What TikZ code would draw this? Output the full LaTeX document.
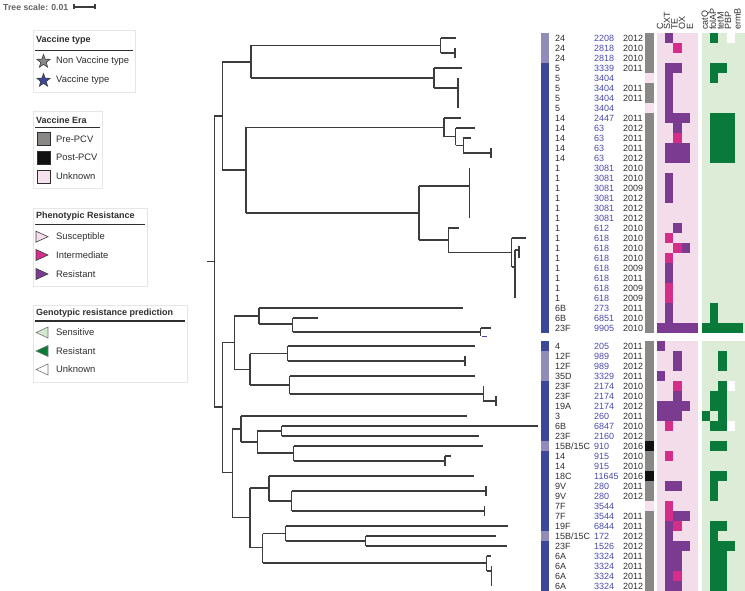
\documentclass[tikz,border=0pt]{standalone}
\usepackage{fontspec}
\setmainfont{Liberation Sans}
\usepackage{tikz}
\usetikzlibrary{shapes.geometric}

\definecolor{vtblue}{HTML}{3B4899}
\definecolor{nvtgrey}{HTML}{908DB8}
\definecolor{erapre}{HTML}{8A8887}
\definecolor{erapost}{HTML}{111111}
\definecolor{eraunk}{HTML}{F7E1EE}
\definecolor{pinkbg}{HTML}{F4DDEB}
\definecolor{greenbg}{HTML}{DDECD6}
\definecolor{phenR}{HTML}{7A3B91}
\definecolor{phenI}{HTML}{D52D8A}
\definecolor{genR}{HTML}{0A7A3A}
\definecolor{genS}{HTML}{D3E7CC}
\definecolor{treegrey}{HTML}{3C3C3C}
\definecolor{stblue}{HTML}{4A4AAA}
\definecolor{labeltext}{HTML}{2E2E2E}
\definecolor{boxgrey}{HTML}{E6E6E6}

\tikzset{
  branch/.style={draw=treegrey, line width=1.1pt},
  sero/.style={anchor=west, inner sep=0pt, font=\fontsize{9}{10}\selectfont, text=labeltext},
  stlab/.style={anchor=west, inner sep=0pt, font=\fontsize{9}{10}\selectfont, text=stblue},
  yrlab/.style={anchor=west, inner sep=0pt, font=\fontsize{9}{10}\selectfont, text=labeltext},
  header/.style={rotate=90, anchor=west, inner sep=0pt, font=\fontsize{9}{10}\selectfont, text=labeltext},
  legtitle/.style={anchor=west, inner sep=0pt, font=\bfseries\fontsize{9}{10}\selectfont, text=labeltext},
  legtext/.style={anchor=west, inner sep=0pt, font=\fontsize{9.4}{11}\selectfont, text=labeltext},
  legbox/.style={draw=boxgrey, line width=0.8pt, fill=white},
  legline/.style={draw=labeltext, line width=1.2pt},
  legstar/.style={star, star points=5, star point ratio=2.4, minimum size=14pt, inner sep=0pt, draw=treegrey, line width=0.6pt},
  legsquare/.style={rectangle, minimum size=13pt, inner sep=0pt, draw=labeltext, line width=0.8pt},
}

\begin{document}
\begin{tikzpicture}[x=1pt,y=-1pt]
\useasboundingbox (0,0) rectangle (745,591);

% tree scale
\node[legtitle, text=treegrey!80, font=\bfseries\fontsize{8.7}{10}\selectfont] (treescale) at (3,7) {Tree scale: 0.01};
\draw[branch] (74,7) -- (95,7) (74,4.5) -- (74,9.5) (95,4.5) -- (95,9.5);

% legend: vaccine type
\draw[legbox] (33,30) rectangle (135,92);
\node[legtitle] (vt-title) at (36,40.5) {Vaccine type};
\draw[legline] (35,50.5) -- (133,50.5);
\node[legstar, fill=erapre] (vt-star1) at (43.5,61.5) {};
\node[legtext] (vt-nvt) at (56,61.5) {Non Vaccine type};
\node[legstar, fill=vtblue] (vt-star2) at (43.5,80.5) {};
\node[legtext] (vt-vt) at (56,80.5) {Vaccine type};

% legend: vaccine era
\draw[legbox] (33,111.5) rectangle (102,188.5);
\node[legtitle] (era-title) at (36,120) {Vaccine Era};
\draw[legline] (35,127.5) -- (100,127.5);
\node[legsquare, fill=erapre] (era-sq1) at (43.5,139) {};
\node[legtext] (era-pre) at (56,139) {Pre-PCV};
\node[legsquare, fill=erapost] (era-sq2) at (43.5,157.5) {};
\node[legtext] (era-post) at (56,157.5) {Post-PCV};
\node[legsquare, fill=eraunk] (era-sq3) at (43.5,176.5) {};
\node[legtext] (era-unk) at (56,176.5) {Unknown};

% legend: phenotypic resistance
\draw[legbox] (33,208) rectangle (147,286);
\node[legtitle] (phen-title) at (36,216) {Phenotypic Resistance};
\draw[legline] (35,224.5) -- (145,224.5);
\foreach \y/\k/\t/\n in {236.7/pinkbg/Susceptible/sus, 255/phenI/Intermediate/int, 274/phenR/Resistant/res} {
  \filldraw[fill=\k, draw=treegrey, line width=0.6pt] (36,\y-5.5) -- (48,\y) -- (36,\y+5.5) -- cycle;
  \node[legtext] (phen-\n) at (56,\y) {\t};
}

% legend: genotypic resistance prediction
\draw[legbox] (33,305) rectangle (187,382);
\node[legtitle] (gen-title) at (36,313.5) {Genotypic resistance prediction};
\draw[legline] (35,321) -- (185,321);
\foreach \y/\k/\t/\n in {332.5/genS/Sensitive/sen, 351/genR/Resistant/res, 369.5/white/Unknown/unk} {
  \filldraw[fill=\k, draw=treegrey!70, line width=0.6pt] (48,\y-5.5) -- (36,\y) -- (48,\y+5.5) -- cycle;
  \node[legtext] (gen-\n) at (56,\y) {\t};
}

% tree, upper clade
\draw[branch] (207,261.5) -- (214.3,261.5) (214.3,116) -- (214.3,407);
\draw[branch] (214.3,116) -- (222.3,116) (222.3,62) -- (222.3,170);
\draw[branch] (222.3,62) -- (251,62) (251,45.5) -- (251,78);
\draw[branch] (251,45.5) -- (440.7,45.5) (440.7,38) -- (440.7,53);
\draw[branch] (440.7,38) -- (456,38);
\draw[branch] (440.7,53) -- (455,53) (455,48) -- (455,58);
\draw[branch] (251,78) -- (434,78) (434,68) -- (434,88);
\draw[branch] (434,68) -- (461.7,68);
\draw[branch] (434,88) -- (458,88) (458,78) -- (458,108);
\draw[branch] (222.3,170) -- (246,170) (246,127.4) -- (246,213);
\draw[branch] (246,127.4) -- (444,127.4) (444,118) -- (444,136.8);
\draw[branch] (444,118) -- (460.7,118);
\draw[branch] (444,136.8) -- (455.7,136.8) (455.7,128) -- (455.7,145.5);
\draw[branch] (455.7,128) -- (475,128);
\draw[branch] (455.7,145.5) -- (463.3,145.5) (463.3,138) -- (463.3,153);
\draw[branch] (463.3,138) -- (471,138);
\draw[branch] (463.3,153) -- (491,153) (491,148) -- (491,158);
\draw[branch] (246,213) -- (419,213) (419,186) -- (419,240);
\draw[branch] (419,186) -- (469.3,186) (469.3,168) -- (469.3,218);
\draw[branch] (419,240) -- (448.3,240) (448.3,228) -- (448.3,252.5);
\draw[branch] (448.3,228) -- (459.3,228);
\draw[branch] (448.3,252.5) -- (511.7,252.5) (511.7,238) -- (511.7,267);
\draw[branch] (511.7,238) -- (526,238);
\draw[branch] (511.7,267) -- (515,267) (515,250) -- (515,298);
\draw[branch] (515,250) -- (519,250) (519,246) -- (519,258);

% tree, lower clade
\draw[branch] (214.3,407) -- (222.3,407) (222.3,342.3) -- (222.3,472.5);
\draw[branch] (222.3,342.3) -- (234.3,342.3) (234.3,316) -- (234.3,369.5);
\draw[branch] (234.3,316) -- (259,316) (259,308) -- (259,324);
\draw[branch] (259,308) -- (462.7,308);
\draw[branch] (259,324) -- (292.7,324) (292.7,318) -- (292.7,332);
\draw[branch] (292.7,318) -- (318.3,318);
\draw[branch] (292.7,332) -- (480.7,332) (480.7,328) -- (480.7,336);
\draw[branch] (480.7,328) -- (490.7,328);
\draw[stblue, line width=1pt] (482,336) -- (487,336);
\draw[branch] (234.3,369.5) -- (250,369.5) (250,353.5) -- (250,385);
\draw[branch] (250,353.5) -- (287.7,353.5) (287.7,346) -- (287.7,361);
\draw[branch] (287.7,346) -- (475,346);
\draw[branch] (287.7,361) -- (465,361) (465,356) -- (465,366);
\draw[branch] (250,385) -- (289.7,385) (289.7,376) -- (289.7,394);
\draw[branch] (289.7,376) -- (475,376);
\draw[branch] (289.7,394) -- (483.3,394) (483.3,386) -- (483.3,401);
\draw[branch] (483.3,401) -- (496,401) (496,396) -- (496,406);
\draw[branch] (222.3,472.5) -- (232.3,472.5) (232.3,429) -- (232.3,517.5);
\draw[branch] (232.3,429) -- (241,429) (241,416) -- (241,442);
\draw[branch] (241,416) -- (466.7,416);
\draw[branch] (241,442) -- (257.3,442) (257.3,431) -- (257.3,453);
\draw[branch] (257.3,431) -- (281.7,431) (281.7,426) -- (281.7,436);
\draw[branch] (281.7,426) -- (538,426);
\draw[branch] (281.7,436) -- (479,436);
\draw[branch] (257.3,453) -- (293.7,453) (293.7,446) -- (293.7,461);
\draw[branch] (293.7,446) -- (482.7,446);
\draw[branch] (293.7,461) -- (445,461) (445,456) -- (445,466) (445,456) -- (451,456);
\draw[branch] (232.3,517.5) -- (250,517.5) (250,488) -- (250,547.5);
\draw[branch] (250,488) -- (269,488) (269,476) -- (269,501);
\draw[branch] (269,476) -- (474,476);
\draw[branch] (269,501) -- (291.7,501) (291.7,491) -- (291.7,511);
\draw[branch] (291.7,491) -- (486,491) (486,486) -- (486,496);
\draw[branch] (291.7,511) -- (484.7,511) (484.7,506) -- (484.7,516);
\draw[branch] (250,547.5) -- (262.7,547.5) (262.7,533.5) -- (262.7,563);
\draw[branch] (262.7,533.5) -- (285.7,533.5) (285.7,526) -- (285.7,541);
\draw[branch] (285.7,526) -- (507.7,526);
\draw[branch] (285.7,541) -- (365.7,541) (365.7,536) -- (365.7,546);
\draw[branch] (365.7,536) -- (495.7,536);
\draw[branch] (365.7,546) -- (506.7,546);
\draw[branch] (262.7,563) -- (486.7,563) (486.7,556) -- (486.7,571);
\draw[branch] (486.7,556) -- (490.7,556);
\draw[branch] (486.7,571) -- (491.7,571) (491.7,566) -- (491.7,586);

% strips and backgrounds
\fill[vtblue] (541,33) rectangle (549,333);
\fill[vtblue] (541,341) rectangle (549,591);
\foreach \r in {1,2,3}
  \fill[nvtgrey] (541,{23+10*\r}) rectangle +(8,10);
\foreach \r in {2,3,4,11,20}
  \fill[nvtgrey] (541,{331+10*\r}) rectangle +(8,10);
\fill[erapre] (645,33) rectangle (654,333);
\fill[erapre] (645,341) rectangle (654,591);
\foreach \r in {5,8}
  \fill[eraunk] (645,{23+10*\r}) rectangle +(9,10);
\fill[eraunk] (645,501) rectangle +(9,10);
\foreach \r in {11,14}
  \fill[erapost] (645,{331+10*\r}) rectangle +(9,10);
\fill[pinkbg] (657,33) rectangle (698,333);
\fill[pinkbg] (657,341) rectangle (698,591);
\fill[greenbg] (702,33) rectangle (745,333);
\fill[greenbg] (702,341) rectangle (745,591);

% column headers
\foreach \x/\t [count=\i] in {660/C, 667/SXT, 674.5/TE, 682/OX, 690/E}
  \node[header] (phen-h\i) at (\x,30) {\t};
\foreach \x/\t [count=\i] in {705.5/catQ, 713/folAP, 720.5/tetM, 728/PBP, 737.5/ermB}
  \node[header] (gen-h\i) at (\x,30) {\t};

% phenotypic cells, upper block
\foreach \c/\r in {2/1, 2/4, 3/4, 2/5, 2/6, 2/7, 2/8, 2/9, 3/9, 4/9, 3/10, 2/12, 3/12, 4/12, 2/13, 3/13, 4/13,
    2/15, 2/16, 2/17, 3/20, 4/22, 2/24, 2/25, 2/28, 2/29, 1/30, 2/30, 3/30, 4/30, 5/30}
  \fill[phenR] ({648.8+8.2*\c},{23+10*\r}) rectangle +(8.2,10);
\foreach \c/\r in {3/2, 3/11, 2/21, 3/22, 2/23, 2/26, 2/27}
  \fill[phenI] ({648.8+8.2*\c},{23+10*\r}) rectangle +(8.2,10);

% phenotypic cells, lower block
\foreach \c/\r in {1/1, 3/2, 3/3, 1/4, 3/6, 1/7, 2/7, 3/7, 4/7, 1/8, 2/8, 3/8, 2/15, 3/15, 3/18, 4/18,
    2/19, 2/20, 2/21, 3/21, 4/21, 2/22, 3/22, 2/23, 3/23, 2/24, 2/25, 3/25}
  \fill[phenR] ({648.8+8.2*\c},{331+10*\r}) rectangle +(8.2,10);
\foreach \c/\r in {3/5, 2/9, 2/12, 2/17, 2/18, 3/19, 3/24}
  \fill[phenI] ({648.8+8.2*\c},{331+10*\r}) rectangle +(8.2,10);

% genotypic cells
\foreach \c/\r in {2/1, 2/4, 3/4, 2/5, 2/9, 3/9, 4/9, 2/10, 3/10, 4/10, 2/11, 3/11, 4/11, 2/12, 3/12, 4/12,
    2/13, 3/13, 4/13, 2/28, 2/29, 1/30, 2/30, 3/30, 4/30, 5/30}
  \fill[genR] ({693.8+8.2*\c},{23+10*\r}) rectangle +(8.2,10);
\fill[white] ({693.8+8.2*4},33) rectangle +(8.2,10);
\foreach \c/\r in {3/2, 3/3, 3/5, 2/6, 3/6, 2/7, 3/7, 1/8, 3/8, 2/9, 3/9, 2/11, 3/11, 2/14, 3/14, 2/15, 2/16,
    2/19, 3/19, 2/20, 2/21, 3/21, 4/21, 2/22, 3/22, 2/23, 3/23, 2/24, 3/24, 2/25, 3/25}
  \fill[genR] ({693.8+8.2*\c},{331+10*\r}) rectangle +(8.2,10);
\foreach \r in {5,9}
  \fill[white] ({693.8+8.2*4},{331+10*\r}) rectangle +(8.2,10);

% tip labels, upper block
\foreach \r/\s/\n/\y in {1/24/2208/2012, 2/24/2818/2010, 3/24/2818/2010, 4/5/3339/2011, 5/5/3404/{},
    6/5/3404/2011, 7/5/3404/2011, 8/5/3404/{}, 9/14/2447/2011, 10/14/63/2012, 11/14/63/2011,
    12/14/63/2011, 13/14/63/2012, 14/1/3081/2010, 15/1/3081/2010, 16/1/3081/2009, 17/1/3081/2012,
    18/1/3081/2012, 19/1/3081/2012, 20/1/612/2010, 21/1/618/2010, 22/1/618/2010, 23/1/618/2010,
    24/1/618/2009, 25/1/618/2011, 26/1/618/2009, 27/1/618/2009, 28/6B/273/2011, 29/6B/6851/2010,
    30/23F/9905/2010} {
  \node[sero] (sero-t\r) at (555,{28+10*\r}) {\s};
  \node[stlab] (st-t\r) at (594,{28+10*\r}) {\n};
  \node[yrlab] (yr-t\r) at (623,{28+10*\r}) {\y};
}

% tip labels, lower block
\foreach \r/\s/\n/\y in {1/4/205/2011, 2/12F/989/2011, 3/12F/989/2012, 4/35D/3329/2011, 5/23F/2174/2010,
    6/23F/2174/2010, 7/19A/2174/2012, 8/3/260/2011, 9/6B/6847/2010, 10/23F/2160/2012,
    11/{15B/15C}/910/2016, 12/14/915/2010, 13/14/915/2010, 14/18C/11645/2016, 15/9V/280/2011,
    16/9V/280/2012, 17/7F/3544/{}, 18/7F/3544/2011, 19/19F/6844/2011, 20/{15B/15C}/172/2012,
    21/23F/1526/2012, 22/6A/3324/2011, 23/6A/3324/2011, 24/6A/3324/2011, 25/6A/3324/2012} {
  \node[sero] (sero-b\r) at (555,{336+10*\r}) {\s};
  \node[stlab] (st-b\r) at (594,{336+10*\r}) {\n};
  \node[yrlab] (yr-b\r) at (623,{336+10*\r}) {\y};
}
\end{tikzpicture}
\end{document}
